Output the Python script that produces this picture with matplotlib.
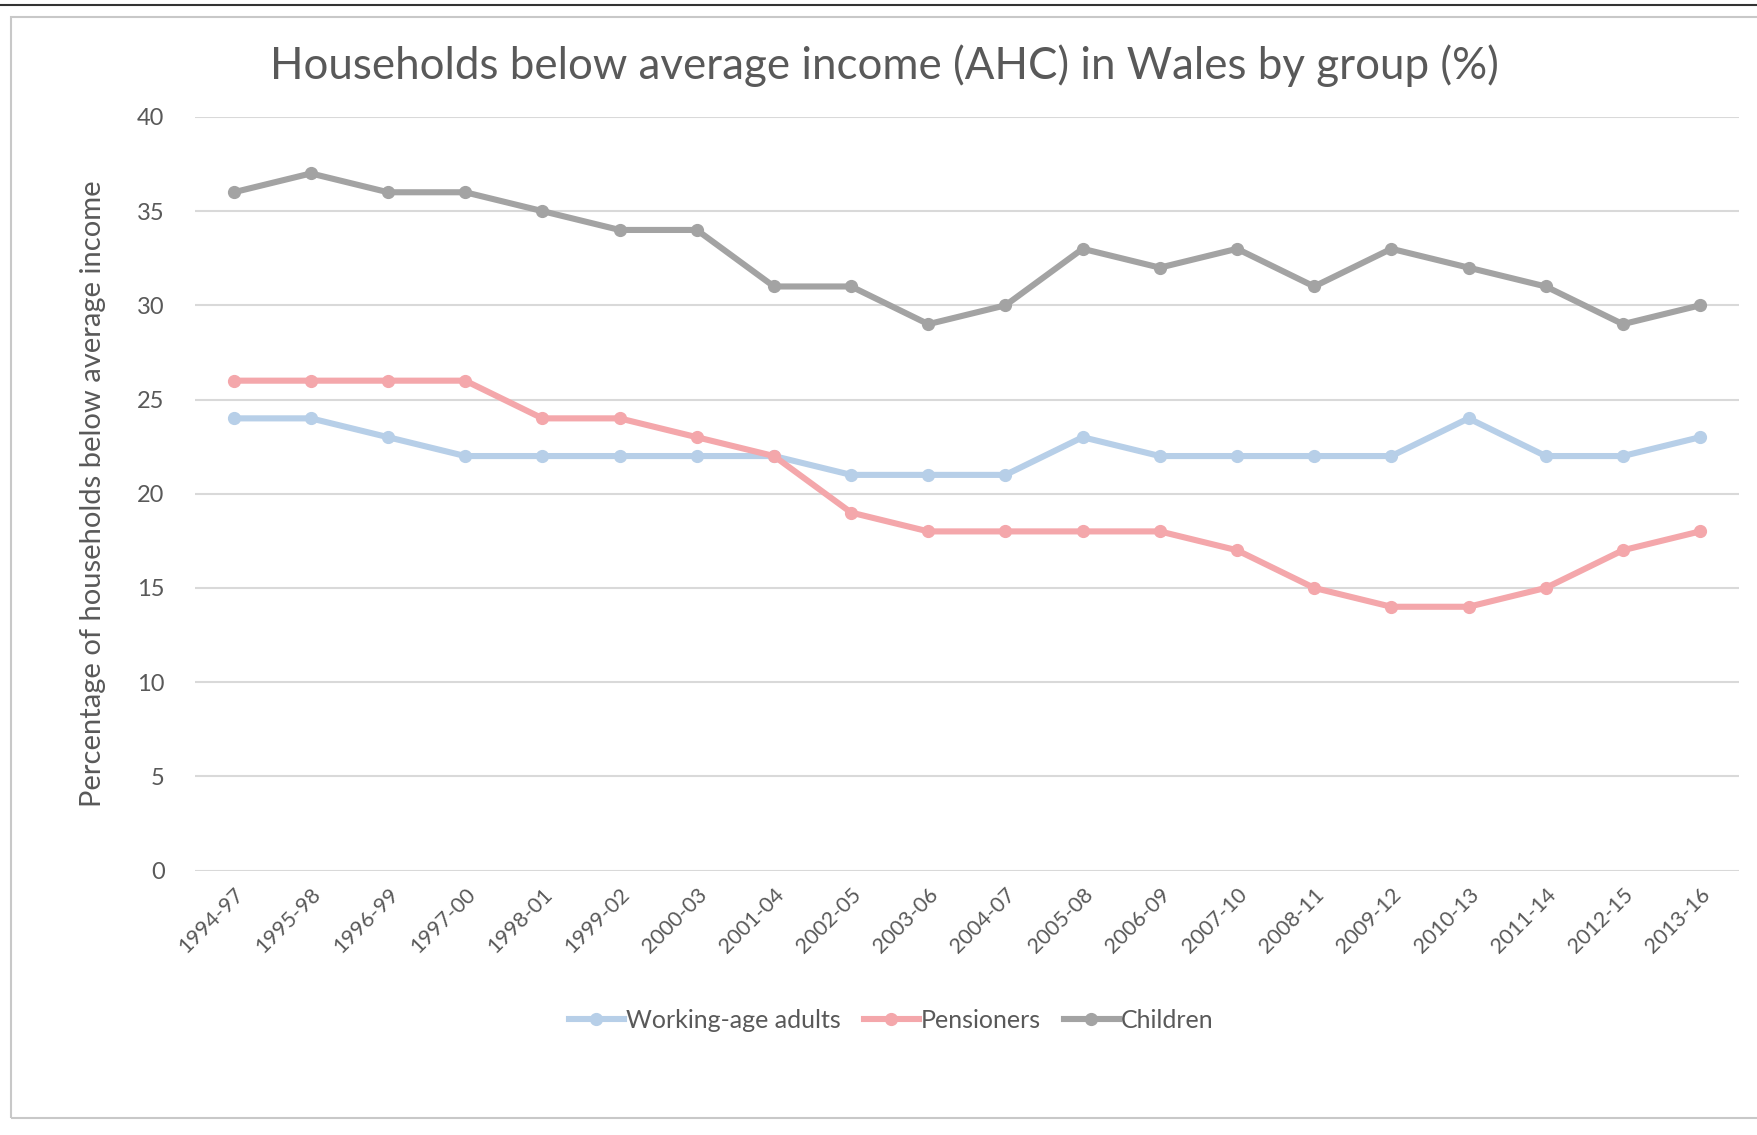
import matplotlib.pyplot as plt
import matplotlib
from matplotlib.patches import Rectangle

font = {'family': ['Lato', 'DejaVu Sans']}
matplotlib.rc('font', **font)

years = ['1994-97', '1995-98', '1996-99', '1997-00', '1998-01', '1999-02', '2000-03',
         '2001-04', '2002-05', '2003-06', '2004-07', '2005-08', '2006-09', '2007-10',
         '2008-11', '2009-12', '2010-13', '2011-14', '2012-15', '2013-16']
working_age = [24, 24, 23, 22, 22, 22, 22, 22, 21, 21, 21, 23, 22, 22, 22, 22, 24, 22, 22, 23]
pensioners = [26, 26, 26, 26, 24, 24, 23, 22, 19, 18, 18, 18, 18, 17, 15, 14, 14, 15, 17, 18]
children = [36, 37, 36, 36, 35, 34, 34, 31, 31, 29, 30, 33, 32, 33, 31, 33, 32, 31, 29, 30]

text_color = '#595959'

fig = plt.figure(figsize=(17.58, 11.35), dpi=100)
ax = fig.add_axes([0.111, 0.233, 0.878, 0.664])

x = range(len(years))
ax.plot(x, working_age, color='#b7cfe8', lw=4.4, marker='o', ms=8.5, label='Working-age adults')
ax.plot(x, pensioners, color='#f4a7ab', lw=4.4, marker='o', ms=8.5, label='Pensioners')
ax.plot(x, children, color='#a3a3a3', lw=4.4, marker='o', ms=8.5, label='Children')

ax.set_xlim(-0.5, len(years) - 0.5)
ax.set_ylim(0, 40)
ax.set_yticks(range(0, 41, 5))
ax.set_xticks(list(x))
ax.set_xticklabels(years, rotation=45, ha='right', rotation_mode='anchor')
ax.tick_params(axis='both', length=0, colors=text_color, labelsize=15.5)
ax.tick_params(axis='y', pad=22, labelsize=17)
ax.tick_params(axis='x', pad=10)
ax.grid(axis='y', color='#d9d9d9', lw=1.5)
ax.set_axisbelow(True)
for s in ax.spines.values():
    s.set_visible(False)

ax.set_ylabel('Percentage of households below average income', fontsize=21,
              color=text_color, labelpad=22)
fig.text(0.503, 0.942, 'Households below average income (AHC) in Wales by group (%)',
         ha='center', va='center', fontsize=31.6, color=text_color)

fig.legend(loc='center', bbox_to_anchor=(0.507, 0.101), ncol=3, frameon=False,
           fontsize=18, labelcolor=text_color, handlelength=2.2, handletextpad=0.1,
           columnspacing=0.9)

# chart frame like the spreadsheet screenshot
fig.add_artist(Rectangle((11 / 1758, 1 - 1118 / 1135), 1.2, (1118 - 17) / 1135,
                         transform=fig.transFigure, fill=False, ec='#c8c8c8', lw=1.5))
fig.add_artist(plt.Line2D([0, 1], [1 - 5 / 1135] * 2, transform=fig.transFigure,
                          color='#333333', lw=1.5))

fig.savefig('out.png', dpi=100)
